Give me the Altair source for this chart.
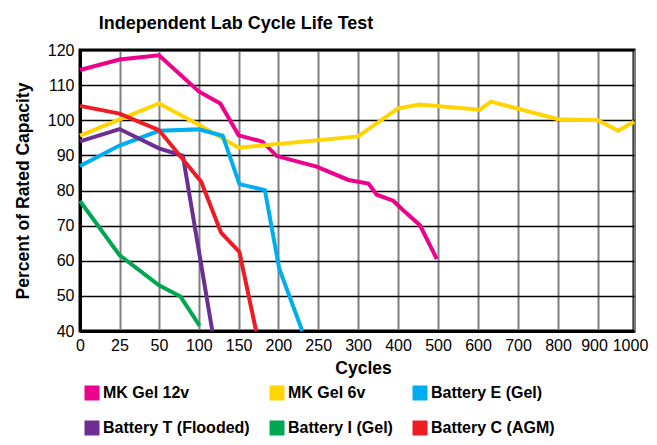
import altair as alt
import pandas as pd

series_names = ["MK Gel 12v", "MK Gel 6v", "Battery E (Gel)",
                "Battery T (Flooded)", "Battery I (Gel)", "Battery C (AGM)"]
series_colors = ["#EC008C", "#FFD400", "#00AEEF", "#6D2E91", "#00A651", "#ED1C24"]

mk12_x = [0, 25, 50, 100, 127, 150, 180, 198, 248, 288, 326, 347, 388, 413, 455, 497]
mk12_y = [114.3, 117.3, 118.5, 108.2, 104.8, 95.7, 93.9, 89.8, 86.8, 83.0, 82.0, 78.8, 77.1, 74.4, 70.1, 60.5]

mk6_x = [0, 50, 100, 150, 300, 400, 455, 605, 632, 800, 900, 956, 1000]
mk6_y = [95.6, 104.8, 98.7, 92.2, 95.4, 103.4, 104.5, 103.0, 105.3, 100.3, 100.0, 97.0, 99.6]

bat_e_x = [0, 25, 50, 100, 130, 151, 183, 201, 230]
bat_e_y = [87.0, 92.8, 97.0, 97.4, 95.6, 81.8, 80.1, 57.8, 40.0]

bat_t_x = [0, 25, 50, 80, 117]
bat_t_y = [94.0, 97.5, 92.0, 89.9, 40.0]

bat_i_x = [0, 25, 50, 77, 101]
bat_i_y = [77.0, 61.6, 53.0, 49.8, 41.5]

bat_c_x = [0, 25, 50, 103, 128, 151, 172]
bat_c_y = [104.1, 101.9, 97.2, 82.5, 68.0, 62.5, 40.0]

x_ticks = [0, 25, 50, 100, 150, 200, 250, 300, 400, 500, 600, 700, 800, 900, 1000]
y_ticks = [40, 50, 60, 70, 80, 90, 100, 110, 120]

rows = []
for name, xs, ys in zip(series_names,
                        [mk12_x, mk6_x, bat_e_x, bat_t_x, bat_i_x, bat_c_x],
                        [mk12_y, mk6_y, bat_e_y, bat_t_y, bat_i_y, bat_c_y]):
    for i, (x, y) in enumerate(zip(xs, ys)):
        rows.append({"series": name, "cycles": x, "pct": y, "idx": i})
df = pd.DataFrame(rows)

FONT = "Liberation Sans"
W, H = 554, 281

chart = alt.Chart(df).mark_line(strokeWidth=4).encode(
    x=alt.X("cycles:Q",
            scale=alt.Scale(domain=[0, 50, 300, 900, 1000], range=[0, 79, 278, 518, 554]),
            axis=alt.Axis(values=x_ticks, title="Cycles", format="d",
                          gridColor="#808080", gridWidth=2, labelPadding=6,
                          labelOverlap=False, labelFlush=False,
                          labelOffset={"condition": {"test": "datum.value >= 900",
                                                     "value": -4},
                                       "value": 0},
                          titlePadding=6, titleX=283)),
    y=alt.Y("pct:Q",
            scale=alt.Scale(domain=[40, 120], nice=False, zero=False),
            axis=alt.Axis(values=y_ticks, title="Percent of Rated Capacity",
                          gridColor="black", gridWidth=1.5, labelPadding=6,
                          labelOverlap=False, labelFlush=False,
                          titlePadding=15)),
    color=alt.Color("series:N",
                    scale=alt.Scale(domain=series_names, range=series_colors),
                    legend=alt.Legend(orient="none", legendX=4, legendY=335,
                                      direction="horizontal",
                                      columns=3, title=None, symbolType="square",
                                      symbolSize=4, symbolStrokeWidth=13,
                                      labelFont=FONT, labelFontSize=16,
                                      labelFontWeight="bold", labelColor="black",
                                      columnPadding=0, rowPadding=-36.5, labelOffset=3,
                                      gridAlign="each", labelLimit=400)),
    order=alt.Order("idx:Q"),
    detail="series:N",
).properties(
    width=W, height=H,
    autosize="none",
    padding={"left": 72, "top": 42, "right": 15, "bottom": 106},
    title=alt.TitleParams("Independent Lab Cycle Life Test", font=FONT, fontSize=18,
                          fontWeight="bold", color="black", anchor="middle",
                          dx=-121, offset=9),
).configure_view(
    stroke="black", strokeWidth=3
).configure_axis(
    domainColor="black", domainWidth=3, ticks=False, gridOpacity=1,
    labelFont=FONT, labelFontSize=16, labelColor="black",
    titleFont=FONT, titleFontSize=17.5, titleFontWeight="bold", titleColor="black",
)

chart.save("out.html", embed_options={"renderer": "svg", "actions": False})
